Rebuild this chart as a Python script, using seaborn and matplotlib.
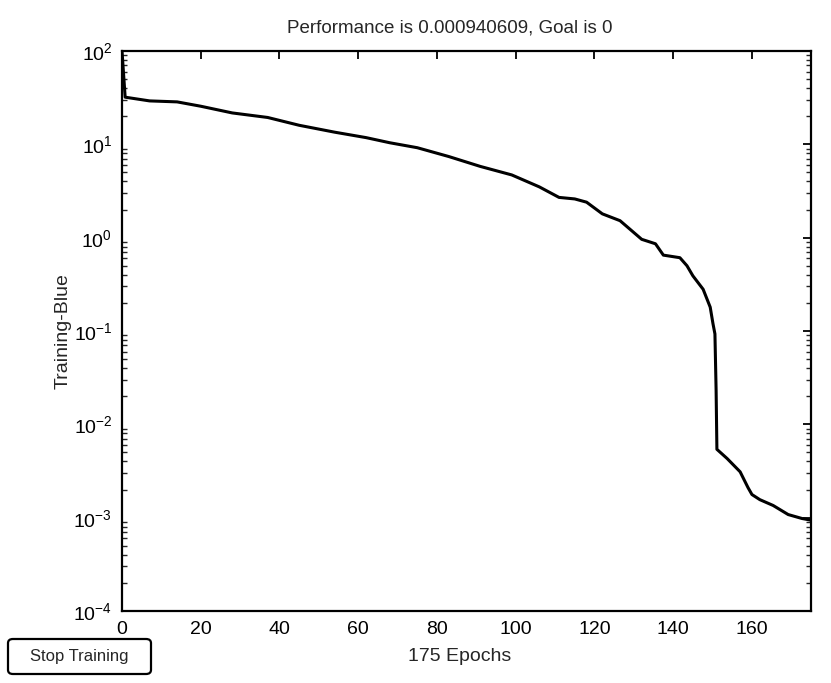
import seaborn as sns
import matplotlib.pyplot as plt
from matplotlib.patches import FancyBboxPatch
from matplotlib.ticker import LogLocator, NullFormatter
import pandas as pd

# training performance (epoch, mse)
epochs = [0, 0.8, 7, 14, 20, 28, 37, 45, 54, 62, 68, 75, 83, 91, 99, 106,
          111, 115, 118, 122, 126.5, 132, 135.5, 137.5, 141.7, 143.5, 145,
          147.6, 149.4, 150.1, 150.6, 150.9, 151.1, 153.7, 157, 159, 160,
          162, 165.4, 169.2, 172.7, 175]
perf = [100, 32, 29.2, 28.5, 25.6, 21.7, 19.4, 16.0, 13.5, 11.8, 10.4, 9.2,
        7.4, 5.8, 4.7, 3.5, 2.7, 2.6, 2.4, 1.8, 1.52, 0.96, 0.86, 0.65, 0.61,
        0.50, 0.39, 0.28, 0.18, 0.12, 0.093, 0.023, 0.0054, 0.0043, 0.0031,
        0.0021, 0.00177, 0.00156, 0.00135, 0.00108, 0.00098, 0.00094]
x_ticks = [0, 20, 40, 60, 80, 100, 120, 140, 160]

df = pd.DataFrame({'epoch': epochs, 'perf': perf})

sns.set_style('white')
plt.rcParams['font.family'] = ['Liberation Sans', 'DejaVu Sans']
plt.rcParams['mathtext.fontset'] = 'custom'
plt.rcParams['mathtext.rm'] = 'Liberation Sans'

fig = plt.figure(figsize=(8.31, 6.83), dpi=100)
ax = fig.add_axes([122 / 831, 1 - 611 / 683, 689 / 831, 560 / 683])

sns.lineplot(data=df, x='epoch', y='perf', color='black', linewidth=2.2, ax=ax)
ax.set_yscale('log')
ax.set_xlim(0, 175)
ax.set_ylim(1e-4, 1e2)
ax.set_xticks(x_ticks)
ax.yaxis.set_major_locator(LogLocator(base=10, numticks=10))
ax.yaxis.set_minor_locator(LogLocator(base=10, subs=range(2, 10), numticks=10))
ax.yaxis.set_minor_formatter(NullFormatter())

for s in ax.spines.values():
    s.set_linewidth(1.6)
    s.set_color('black')
ax.tick_params(which='major', direction='in', length=6, width=1.3,
               top=True, right=True, labelsize=14, colors='black', pad=7)
ax.tick_params(which='minor', direction='in', length=3.5, width=1.0,
               left=True, right=True)
ax.tick_params(axis='y', pad=7)

ax.set_title('Performance is 0.000940609, Goal is 0', fontsize=13.5,
             x=(450 - 122) / 689, pad=13)
ax.set_xlabel('175 Epochs', fontsize=14)
ax.set_ylabel('Training-Blue', fontsize=14)
ax.xaxis.set_label_coords((460 - 122) / 689, -(648 - 611) / 560)
ax.yaxis.set_label_coords((72 - 122) / 689, 0.5)

# "Stop Training" button below the axes
btn = FancyBboxPatch((8 / 831, 1 - 674 / 683), 143 / 831, 35 / 683,
                     boxstyle='round,pad=0,rounding_size=0.006',
                     transform=fig.transFigure, facecolor='white',
                     edgecolor='black', linewidth=1.6)
fig.patches.append(btn)
fig.text(79 / 831, 1 - 656 / 683, 'Stop Training', fontsize=12,
         ha='center', va='center')

fig.savefig('out.png', dpi=100)
